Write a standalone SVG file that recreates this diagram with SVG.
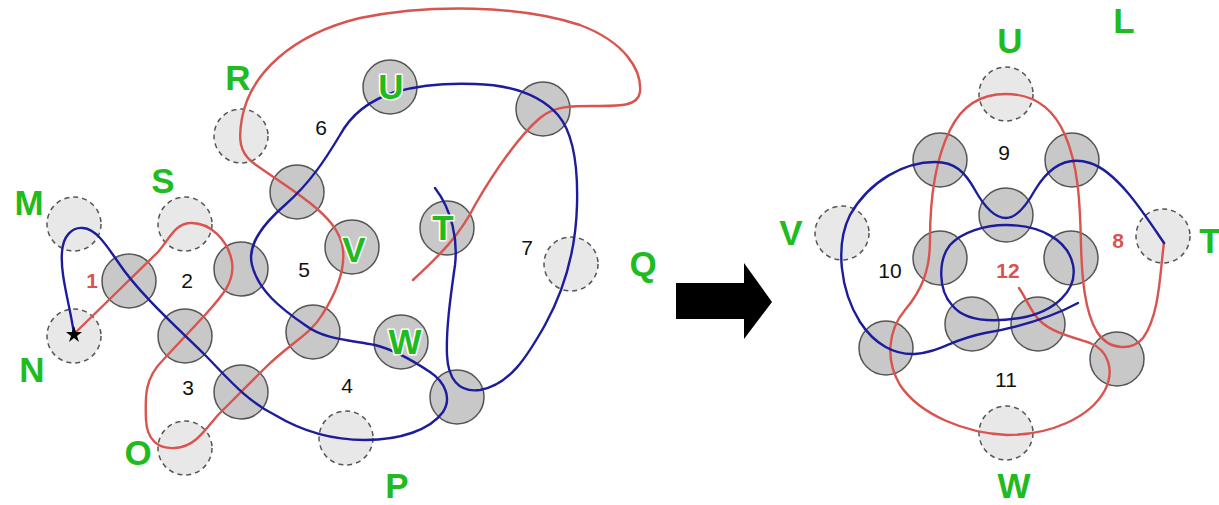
<svg xmlns="http://www.w3.org/2000/svg" width="1219" height="505" viewBox="0 0 1219 505">
<style>
.g{fill:#c8c8c8;stroke:#555;stroke-width:1.5}
.d{fill:#e8e8e8;stroke:#555;stroke-width:1.5;stroke-dasharray:5 4}
.r{fill:none;stroke:#d9534f;stroke-width:2.4;stroke-linecap:round}
.b{fill:none;stroke:#1c1c9c;stroke-width:2.4;stroke-linecap:round}
.lab{font-family:"Liberation Sans",Arial,sans-serif;font-weight:bold;font-size:35px;fill:#1fbb1f;text-anchor:middle}
.in{stroke:#ffffff;stroke-width:3;paint-order:stroke;stroke-linejoin:round}
.num{font-family:"Liberation Sans",Arial,sans-serif;font-size:21px;fill:#111;text-anchor:middle}
.rn{font-family:"Liberation Sans",Arial,sans-serif;font-size:21px;font-weight:bold;fill:#d9534f;text-anchor:middle}
</style>
<rect width="1219" height="505" fill="#fff"/>
<g id="nodes-left">
<g id="M"><circle class="d" cx="74" cy="224" r="27"/></g>
<g id="N"><circle class="d" cx="74" cy="336" r="27"/></g>
<g id="S"><circle class="d" cx="185" cy="224" r="27"/></g>
<g id="O"><circle class="d" cx="185" cy="448" r="27"/></g>
<g id="R"><circle class="d" cx="241" cy="136" r="27"/></g>
<g id="P"><circle class="d" cx="346" cy="438" r="27"/></g>
<g id="Q"><circle class="d" cx="571" cy="264" r="27"/></g>
<g id="c1"><circle class="g" cx="129" cy="281" r="27"/></g>
<g id="c2"><circle class="g" cx="241" cy="269" r="27"/></g>
<g id="c3"><circle class="g" cx="185" cy="336" r="27"/></g>
<g id="c4"><circle class="g" cx="241" cy="392" r="27"/></g>
<g id="c5"><circle class="g" cx="297" cy="192" r="27"/></g>
<g id="c6"><circle class="g" cx="313" cy="332" r="27"/></g>
<g id="U1"><circle class="g" cx="390" cy="87" r="27"/></g>
<g id="V1"><circle class="g" cx="352" cy="247" r="27"/></g>
<g id="T1"><circle class="g" cx="447" cy="228" r="27"/></g>
<g id="W1"><circle class="g" cx="401" cy="342" r="27"/></g>
<g id="c7"><circle class="g" cx="543" cy="109" r="27"/></g>
<g id="c8"><circle class="g" cx="457" cy="397" r="27"/></g>
</g>
<g id="nodes-right">
<g id="U2"><circle class="d" cx="1006" cy="94" r="27"/></g>
<g id="V2"><circle class="d" cx="842" cy="233" r="27"/></g>
<g id="T2"><circle class="d" cx="1163" cy="236" r="27"/></g>
<g id="W2"><circle class="d" cx="1006" cy="433" r="27"/></g>
<g id="r1"><circle class="g" cx="940" cy="160" r="27"/></g>
<g id="r2"><circle class="g" cx="1072" cy="160" r="27"/></g>
<g id="r3"><circle class="g" cx="1006" cy="215" r="27"/></g>
<g id="r4"><circle class="g" cx="940" cy="258" r="27"/></g>
<g id="r5"><circle class="g" cx="1071" cy="258" r="27"/></g>
<g id="r6"><circle class="g" cx="972" cy="324" r="27"/></g>
<g id="r7"><circle class="g" cx="1038" cy="324" r="27"/></g>
<g id="r8"><circle class="g" cx="886" cy="348" r="27"/></g>
<g id="r9"><circle class="g" cx="1117" cy="359" r="27"/></g>
</g>
<g id="connectors">
<path class="r" d="M74,334 L158,252 C170,238 175,224 190,223 C210,222 228,240 232,262 C235,282 222,296 205,315 L163,360 C145,378 145,395 146,420 C147,440 158,449 175,448 C195,447 205,430 218,415 L265,368 C290,343 310,335 322,315 C338,290 345,270 343,250 C341,230 325,215 310,203 C290,187 265,172 252,162 C240,152 238,140 242,118 C250,75 290,35 360,18 C430,4 520,5 580,25 C625,42 642,70 640,92 C638,106 620,106 600,106 C575,106 555,105 540,118 C520,135 495,170 475,205 C460,235 440,255 413,280"/>
<path class="b" d="M74,334 C70,305 60,275 62,252 C63,236 72,227 83,228 C97,229 108,248 118,262 C140,295 180,330 205,355 C225,375 245,400 275,415 C300,430 330,440 365,440 C400,440 430,430 443,412 C452,398 445,382 430,372 C415,362 395,350 375,345 C350,340 325,340 305,325 C280,308 258,290 252,265 C247,245 262,225 285,205 C310,183 325,160 340,135 C352,113 370,100 395,92 C420,85 450,83 475,84 C510,85 540,95 558,115 C575,135 578,170 577,205 C576,245 567,285 545,325 C528,355 510,385 480,390 C458,393 448,378 447,355 C446,330 450,300 455,265 C458,240 452,210 435,188"/>
<path class="r" d="M1164,243 C1160,270 1160,315 1143,338 C1133,350 1110,352 1097,332 C1085,312 1082,280 1081,245 C1080,200 1078,165 1065,135 C1052,105 1030,94 1006,94 C982,94 962,105 950,130 C935,160 930,200 930,240 C930,270 922,290 905,310 C888,330 885,360 900,385 C920,415 965,433 1007,435 C1050,435 1090,418 1105,390 C1115,370 1108,350 1090,343 C1065,335 1045,330 1035,315 C1028,305 1024,295 1019,288"/>
<path class="b" d="M1164,243 C1145,215 1118,172 1090,163 C1065,155 1047,170 1035,190 C1025,208 1015,218 1006,218 C995,218 985,208 975,190 C965,172 955,162 935,162 C905,162 870,180 850,215 C835,245 840,290 860,322 C875,345 895,355 915,354 C940,352 950,340 985,333 C1020,327 1050,318 1078,303"/>
<path class="b" d="M1006,225 C1040,225 1068,240 1073,265 C1078,290 1055,312 1020,318 C995,322 965,322 952,305 C938,290 938,260 950,245 C962,232 985,225 1006,225 Z"/>
<polygon points="676,283 744,283 744,263 772,302 744,339 744,319 676,319" fill="#000"/>
</g>
<polygon points="74,326 76,332 82,332 77,336 79,342 74,338 69,342 71,336 66,332 72,332" fill="#000"/>
<g id="labels">
<text class="lab" x="29" y="215">M</text>
<text class="lab" x="32" y="382">N</text>
<text class="lab" x="163" y="193">S</text>
<text class="lab" x="138" y="465">O</text>
<text class="lab" x="238" y="90">R</text>
<text class="lab in" x="391" y="99">U</text>
<text class="lab in" x="354" y="262">V</text>
<text class="lab in" x="443" y="240">T</text>
<text class="lab in" x="405" y="354">W</text>
<text class="lab" x="643" y="276">Q</text>
<text class="lab" x="397" y="498">P</text>
<text class="lab" x="1010" y="53">U</text>
<text class="lab" x="1124" y="33">L</text>
<text class="lab" x="791" y="245">V</text>
<text class="lab" x="1210" y="253">T</text>
<text class="lab" x="1014" y="498">W</text>
<text class="rn" x="92" y="288">1</text>
<text class="num" x="187" y="288">2</text>
<text class="num" x="188" y="395">3</text>
<text class="num" x="347" y="393">4</text>
<text class="num" x="304" y="277">5</text>
<text class="num" x="321" y="135">6</text>
<text class="num" x="527" y="255">7</text>
<text class="rn" x="1118" y="248">8</text>
<text class="num" x="1004" y="160">9</text>
<text class="num" x="890" y="278">10</text>
<text class="num" x="1006" y="387">11</text>
<text class="rn" x="1008" y="278">12</text>
</g>
</svg>
